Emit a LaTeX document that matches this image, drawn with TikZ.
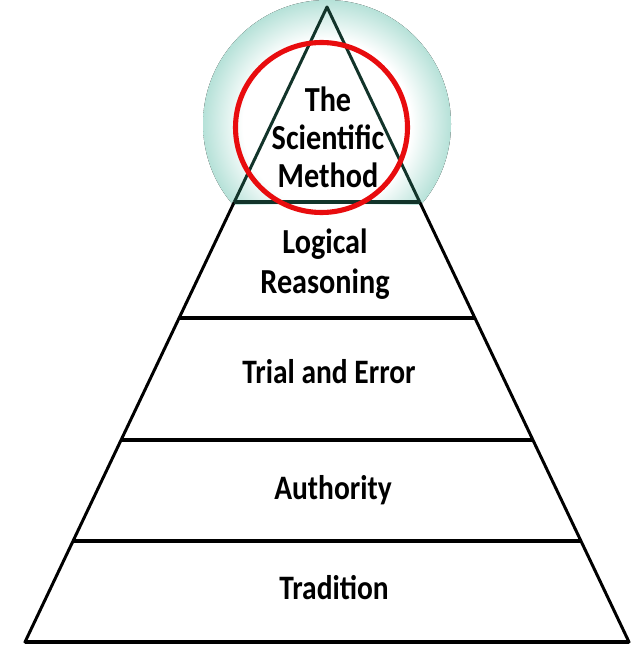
\documentclass[tikz,border=0pt]{standalone}
\usepackage{fontspec}
\setmainfont[FakeStretch = 0.86]{Carlito}

\definecolor{glowteal}{RGB}{95,190,170}
\definecolor{darkteal}{RGB}{18,52,42}
\definecolor{ringred}{RGB}{232,12,14}

\pgfdeclareradialshading{glow}{\pgfpoint{0bp}{0bp}}{color(0bp)=(white); color(17bp)=(white); color(31bp)=(glowteal!80); color(38bp)=(glowteal); color(43bp)=(glowteal!55); color(47bp)=(glowteal!15); color(50bp)=(white)}

\begin{document}
\begin{tikzpicture}[x = 0.02cm, y = -0.02cm, > = latex,
	tier/.style = {font = \fontsize{19.5}{22}\selectfont\bfseries, align = center},
	toptier/.style = {font = \fontsize{20}{21.6}\selectfont\bfseries, align = center}]

\useasboundingbox (0, 0) rectangle (631, 645);

% Glow behind the top of the pyramid

\begin{scope}
	\clip (0, 0) rectangle (631, 204);
	\fill [shading = glow] (327, 124) circle (124);
\end{scope}

% Pyramid outline

\draw [line width = 1.7pt, line join = round] (234.3, 202) -- (25, 642) -- (629, 642) -- (419.7, 202);
\draw [line width = 1.7pt, draw = darkteal, line join = round] (234.3, 202) -- (327, 7) -- (419.7, 202);

% Tier lines

\draw [line width = 2.6pt, draw = darkteal] (234.3, 202) -- (419.7, 202);
\draw [line width = 2.6pt] (179.1, 318) -- (474.9, 318);
\draw [line width = 2.6pt] (121.1, 440) -- (532.9, 440);
\draw [line width = 2.6pt] (73, 541) -- (581, 541);
\draw [line width = 2.6pt] (25, 642) -- (629, 642);

% Tier labels

\node [toptier] (scientific) at (328, 137) {The\\Scientific\\Method};
\node [toptier, font = \fontsize{20}{22.7}\selectfont\bfseries] (logical) at (325, 264) {Logical\\Reasoning};
\node [tier] (trial) at (329, 372) {Trial and Error};
\node [tier] (authority) at (333, 490) {Authority};
\node [tier] (tradition) at (334, 588) {Tradition};

% Red ring round the top

\draw [line width = 2.9pt, draw = ringred] (321.5, 127.5) ellipse (86 and 85);

\end{tikzpicture}
\end{document}
